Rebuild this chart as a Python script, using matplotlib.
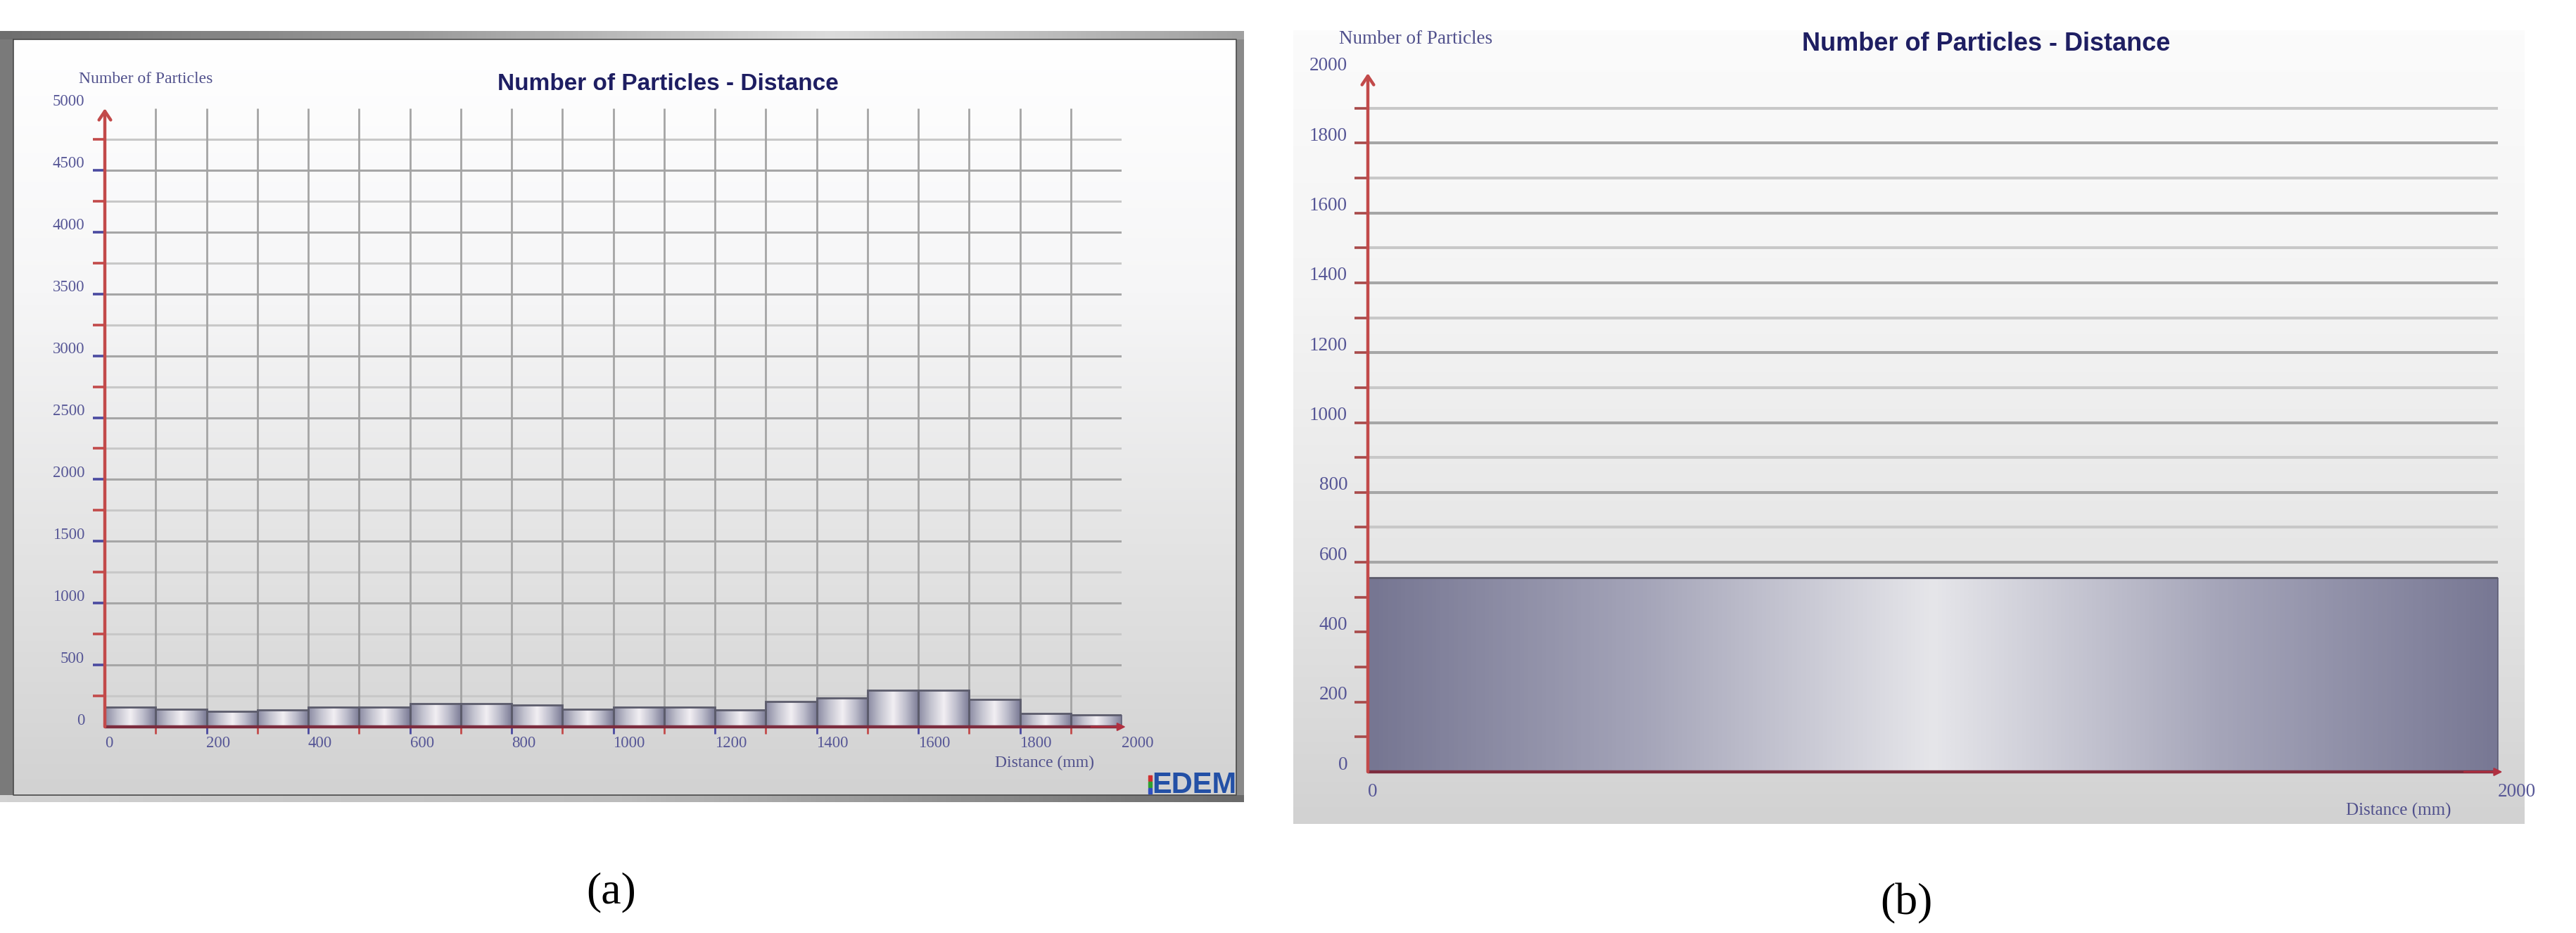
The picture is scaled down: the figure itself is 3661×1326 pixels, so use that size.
import numpy as np
import matplotlib
matplotlib.use("Agg")
import matplotlib.pyplot as plt
from matplotlib.colors import LinearSegmentedColormap
from matplotlib.transforms import ScaledTranslation

# ---------------- data ----------------
distance_edges_a = [0, 100, 200, 300, 400, 500, 600, 700, 800, 900, 1000,
                    1100, 1200, 1300, 1400, 1500, 1600, 1700, 1800, 1900, 2000]
particles_a = [160, 141, 126, 136, 158, 160, 190, 190, 175, 141,
               160, 158, 138, 204, 234, 296, 296, 219, 109, 94]

distance_edges_b = [0, 2000]
particles_b = [555]

y_major_a = [0, 500, 1000, 1500, 2000, 2500, 3000, 3500, 4000, 4500, 5000]
y_minor_a = [250, 750, 1250, 1750, 2250, 2750, 3250, 3750, 4250, 4750]
x_major_a = [0, 200, 400, 600, 800, 1000, 1200, 1400, 1600, 1800, 2000]
x_minor_a = [100, 300, 500, 700, 900, 1100, 1300, 1500, 1700, 1900]

y_major_b = [0, 200, 400, 600, 800, 1000, 1200, 1400, 1600, 1800, 2000]
y_minor_b = [100, 300, 500, 700, 900, 1100, 1300, 1500, 1700, 1900]
x_major_b = [0, 2000]

chart_title = "Number of Particles - Distance"
y_title = "Number of Particles"
x_title = "Distance (mm)"
panel_labels = ["(a)", "(b)"]

# ---------------- figure ----------------
W, H, DPI = 3661, 1326, 100
plt.rcParams['font.family'] = ['Liberation Serif', 'DejaVu Serif']
fig = plt.figure(figsize=(W / DPI, H / DPI), dpi=DPI)
fig.patch.set_facecolor('white')

bg = fig.add_axes([0, 0, 1, 1])
bg.axis('off')


def cmap_of(colors):
    return LinearSegmentedColormap.from_list('g', colors)


def bg_grad(x0, x1, y0, y1, colors, horizontal=False, zorder=0):
    arr = np.linspace(0, 1, 256)
    arr = arr.reshape(1, -1) if horizontal else arr.reshape(-1, 1)
    bg.imshow(arr, cmap=cmap_of(colors), extent=(x0, x1, y1, y0), origin='upper',
              aspect='auto', interpolation='bilinear', zorder=zorder)


# panel (a) frame
bg_grad(0, 1768, 44, 1140, ['#7a7a7a', '#8a8a8a'], horizontal=True, zorder=0)
bg_grad(0, 1768, 44, 56, ['#6e6e6e', '#9a9a9a', '#dcdcdc', '#a0a0a0'], horizontal=True, zorder=1)
bg_grad(0, 1768, 1130, 1140, ['#d2d2d2', '#bcbcbc', '#6a6a6a'], horizontal=True, zorder=1)
bg_grad(19, 1757, 56, 1130, ['#ffffff', '#f6f6f7', '#e4e4e4', '#d2d2d2'], zorder=2)
bg.plot([19, 1757, 1757, 19, 19], [56, 56, 1130, 1130, 56], color='#4a4a4a', lw=1.2, zorder=3)

# panel (b) background
bg_grad(1838, 3588, 43, 1171, ['#fbfbfb', '#f4f4f4', '#e6e6e6', '#d2d2d2'], zorder=0)

bg.set_xlim(0, W)
bg.set_ylim(H, 0)


def px_axes(l, r, t, b):
    ax = fig.add_axes([l / W, 1 - b / H, (r - l) / W, (b - t) / H])
    ax.patch.set_alpha(0)
    for s in ax.spines.values():
        s.set_visible(False)
    return ax


def px_off(dx, dy):
    return ScaledTranslation(dx / DPI, -dy / DPI, fig.dpi_scale_trans)


bar_cmap_a = cmap_of(['#8a8aa2', '#c4c4d0', '#f2eff3', '#bcbccb', '#7a7a94'])
bar_cmap_b = cmap_of(['#767692', '#a6a6ba', '#e6e6ea', '#a6a6ba', '#787894'])

label_col = '#565696'
red = '#c24a4a'
blue = '#4a4aa0'


def draw_panel(ax, edges, counts, ymax, y_major, y_minor, x_major, x_minor,
               bar_cmap, fs, vgrid, yt_len, yt_col_major, yt_col_minor, grid_lw,
               xlab_dy, ylab_dx, ylab_dy, xt_len):
    xmax = edges[-1]
    # horizontal grid
    ax.hlines([v for v in y_minor], 0, xmax, colors='#c8c8c8', lw=grid_lw, zorder=1)
    ax.hlines([v for v in y_major if 0 < v < ymax], 0, xmax, colors='#a6a6a6', lw=grid_lw, zorder=1)
    if vgrid:
        xs = sorted([v for v in x_minor] + [v for v in x_major if 0 < v < xmax])
        ax.vlines(xs, 0, ymax, colors='#a4a4a4', lw=grid_lw * 0.9, zorder=1)
    # bars with cylinder shading
    grad = np.linspace(0, 1, 256).reshape(1, -1)
    for i, h in enumerate(counts):
        x0, x1 = edges[i], edges[i + 1]
        ax.imshow(grad, cmap=bar_cmap, extent=(x0, x1, 0, h), aspect='auto',
                  interpolation='bicubic', zorder=3)
    ax.bar(edges[:-1], counts, width=np.diff(edges), align='edge', facecolor='none',
           edgecolor='#5c5c6c', lw=2.0, zorder=4)
    ax.set_xlim(0, xmax)
    ax.set_ylim(0, ymax)
    # axes lines
    ax.plot([0, xmax], [0, 0], color='#7c2c3e', lw=3.2, zorder=6, clip_on=False, solid_capstyle='butt')
    ax.annotate('', xy=(xmax * 1.004, 0), xytext=(xmax * 0.97, 0),
                arrowprops=dict(arrowstyle='-|>,head_length=0.5,head_width=0.25', color='#b03040',
                                lw=1.5, shrinkA=0, shrinkB=0, mutation_scale=14),
                annotation_clip=False, zorder=7)
    ax.annotate('', xy=(0, ymax), xytext=(0, 0),
                arrowprops=dict(arrowstyle='->,head_length=0.45,head_width=0.3', color=red,
                                lw=3.2, shrinkA=0, shrinkB=0, mutation_scale=20),
                annotation_clip=False, zorder=7)
    # ticks (no marks at the axis ends, only the arrow)
    ax.set_yticks([v for v in y_major if 0 < v < ymax])
    ax.set_yticks(y_minor, minor=True)
    ax.set_xticks([v for v in x_major if 0 < v < xmax])
    ax.set_xticks(x_minor, minor=True)
    ax.set_xlim(0, xmax)
    ax.set_ylim(0, ymax)
    ax.tick_params(axis='y', which='major', direction='out', length=yt_len, width=2.6,
                   color=yt_col_major, labelleft=False)
    ax.tick_params(axis='y', which='minor', direction='out', length=yt_len, width=2.6,
                   color=yt_col_minor)
    ax.tick_params(axis='x', which='major', direction='out', length=xt_len, width=2,
                   color=blue, labelbottom=False)
    ax.tick_params(axis='x', which='minor', direction='out', length=xt_len, width=2,
                   color=red)
    ytr = ax.get_yaxis_transform() + px_off(-ylab_dx, -ylab_dy)
    for v in y_major:
        ax.text(0, v, f"{v}", transform=ytr, ha='right', va='center', fontsize=fs,
                color=label_col)
    xtr = ax.get_xaxis_transform() + px_off(0, xlab_dy)
    for v in x_major:
        ax.text(v, 0, f"{v}", transform=xtr, ha='left', va='center', fontsize=fs,
                color=label_col)


# ---------------- panel (a) ----------------
ax_a = px_axes(149, 1594, 154, 1033)
draw_panel(ax_a, distance_edges_a, particles_a, 5000, y_major_a, y_minor_a,
           x_major_a, x_minor_a, bar_cmap_a, 16.5, True, 12, blue, red, 2.2,
           xlab_dy=24, ylab_dx=29, ylab_dy=9, xt_len=7)

fig.text(949 / W, 1 - 119 / H, chart_title, ha='center', va='center', fontsize=24,
         fontweight='bold', family='Liberation Sans', color='#1e1e62')
fig.text(112 / W, 1 - 113 / H, y_title, ha='left', va='center', fontsize=17, color='#50508c')
fig.text(1485 / W, 1 - 1084 / H, x_title, ha='center', va='center', fontsize=17, color='#50508c')
fig.text(1697 / W, 1 - 1116 / H, "EDEM", ha='center', va='center', fontsize=30,
         fontweight='bold', family='Liberation Sans', color='#2350a6')
for k, c in enumerate(['#d03030', '#30a030', '#3050c0']):
    bg.add_patch(plt.Rectangle((1632, 1102 + k * 9), 5, 8, color=c, zorder=5))

# ---------------- panel (b) ----------------
ax_b = px_axes(1944, 3550, 104, 1097)
draw_panel(ax_b, distance_edges_b, particles_b, 2000, y_major_b, y_minor_b,
           x_major_b, [], bar_cmap_b, 19.5, False, 14, '#a84a4a', '#a84a4a', 2.9,
           xlab_dy=28, ylab_dx=29, ylab_dy=10, xt_len=0)
ax_b.tick_params(axis='x', which='both', length=0)

fig.text(2823 / W, 1 - 63 / H, chart_title, ha='center', va='center', fontsize=26,
         fontweight='bold', family='Liberation Sans', color='#1e1e62')
fig.text(1903 / W, 1 - 55 / H, y_title, ha='left', va='center', fontsize=19.5, color='#50508c')
fig.text(3409 / W, 1 - 1152 / H, x_title, ha='center', va='center', fontsize=18, color='#50508c')

# panel labels
fig.text(869 / W, 1 - 1268 / H, panel_labels[0], ha='center', va='center', fontsize=46, color='black')
fig.text(2709 / W, 1 - 1284 / H, panel_labels[1], ha='center', va='center', fontsize=46, color='black')

fig.savefig("out.png", dpi=DPI)
